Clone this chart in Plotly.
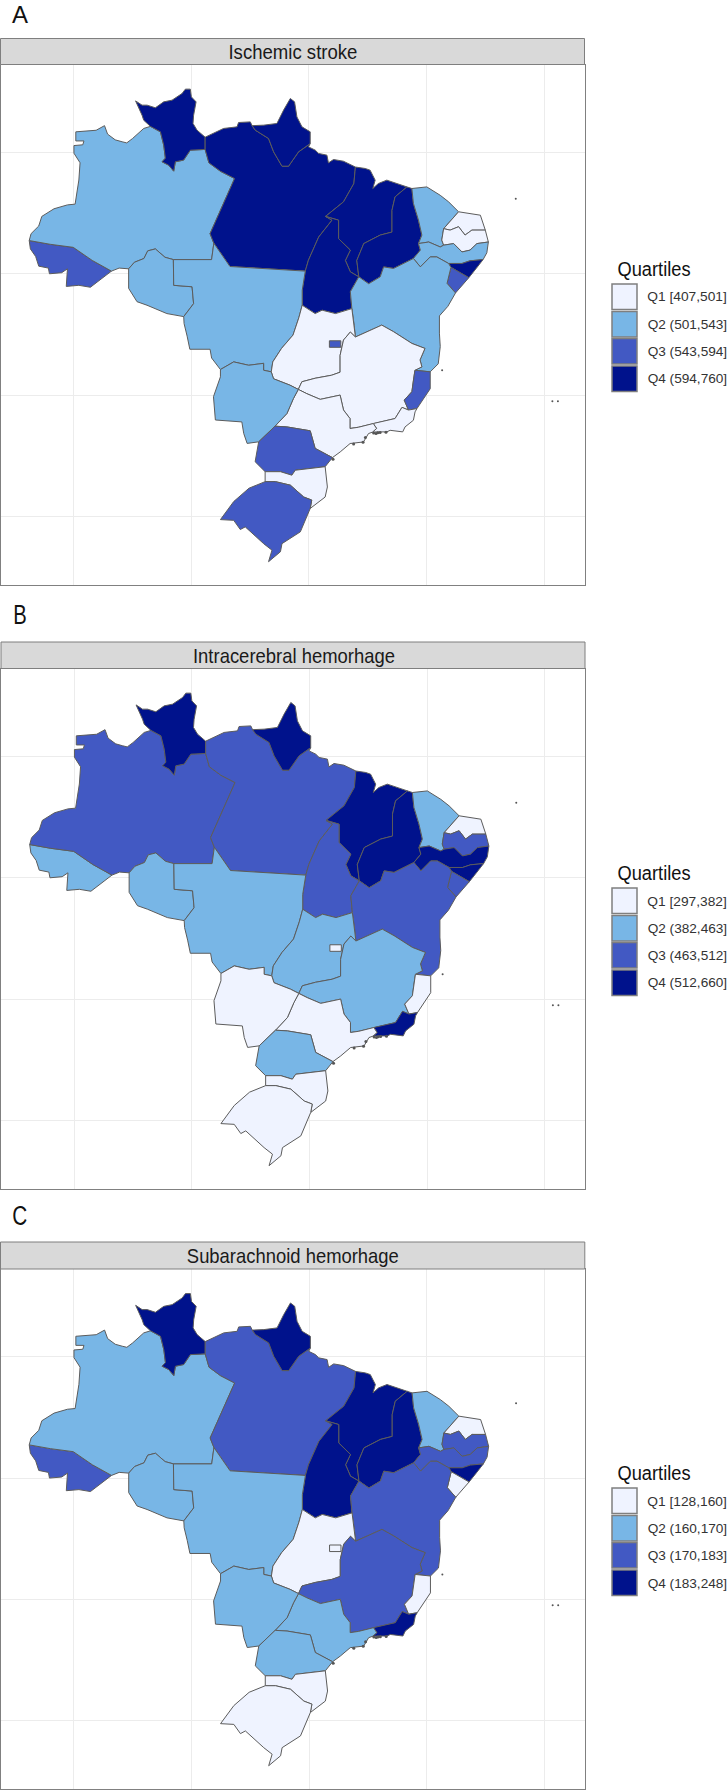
import json
import plotly.graph_objects as go

# ---------- Boundary arcs, as (longitude, latitude) ----------
rr_n = [(-63.47,2.15),(-64.04,2.66),(-64.18,3.07),(-64.73,4.25),(-64.18,3.90),(-63.75,3.90),(-63.05,3.68),(-62.34,4.17),(-61.63,4.31),(-60.78,4.86),(-60.50,5.22),(-60.08,5.22),(-59.99,4.58),(-59.59,4.17),(-59.80,3.07),(-59.85,2.39),(-59.51,1.84),(-58.82,1.26)]
rr_pa = [(-58.82,1.26),(-58.82,0.25)]
rr_am = [(-58.82,0.25),(-60.08,0.19),(-60.65,-0.63),(-61.35,-0.77),(-61.49,-1.54),(-61.92,-1.05),(-62.48,-0.77),(-62.20,-0.47),(-62.34,0.60),(-62.62,1.70),(-63.47,2.15)]
am_n = [(-63.47,2.15),(-64.04,1.98),(-65.00,1.14),(-65.48,0.79),(-65.87,0.88),(-66.46,1.04),(-67.11,1.51),(-67.37,2.21),(-68.08,1.83),(-69.81,1.70),(-69.81,0.95),(-69.12,0.95),(-69.22,0.63),(-69.97,0.57),(-69.97,-0.06),(-69.45,-0.85),(-69.55,-2.27),(-69.87,-4.26),(-70.52,-4.32),(-71.66,-4.64),(-72.70,-5.27),(-72.96,-6.06),(-73.61,-6.69),(-73.77,-7.26)]
am_ac = [(-73.77,-7.26),(-71.98,-7.57),(-70.03,-7.82),(-68.41,-8.90),(-66.78,-9.78)]
ac_out = [(-73.77,-7.26),(-73.67,-7.95),(-73.22,-8.58),(-72.96,-9.37),(-72.14,-9.53),(-72.05,-10.00),(-71.01,-9.91),(-70.52,-9.59),(-70.62,-11.04),(-69.55,-10.95),(-68.57,-11.11),(-67.92,-10.63),(-66.78,-9.78)]
am_s = [(-66.78,-9.78),(-66.13,-9.53),(-65.32,-9.59)]
am_ro = [(-65.32,-9.59),(-64.83,-9.05),(-64.02,-8.74),(-63.70,-8.11),(-63.05,-7.95),(-62.23,-8.64),(-61.52,-8.83)]
am_mt = [(-61.52,-8.83),(-58.27,-8.83),(-58.08,-7.48)]
am_pa = [(-58.82,0.25),(-58.50,-0.85),(-57.52,-1.55),(-56.32,-2.15),(-58.40,-6.69),(-58.08,-7.48)]
pa_n = [(-58.82,1.26),(-58.10,1.57),(-57.25,1.98),(-56.11,2.11),(-55.98,2.47),(-54.98,2.52),(-54.83,2.21)]
ap_n = [(-54.83,2.21),(-53.85,2.25),(-52.72,2.39),(-52.15,3.49),(-51.58,4.45),(-51.22,4.17),(-51.02,2.93),(-50.59,2.11),(-49.89,1.70),(-49.89,0.73)]
ap_pa = [(-54.83,2.21),(-54.56,1.84),(-53.43,1.15),(-53.00,0.05),(-52.29,-1.13),(-51.73,-1.13),(-50.88,0.05),(-49.89,0.73)]
pa_e = [(-49.89,0.73),(-50.03,0.46),(-49.46,0.19),(-49.18,-0.08),(-48.47,-0.22),(-48.34,-0.86),(-47.91,-0.58),(-47.07,-0.72),(-46.05,-1.20)]
pa_ma = [(-46.05,-1.20),(-46.18,-2.56),(-47.06,-4.07),(-48.59,-5.27)]
pa_to = [(-48.59,-5.27),(-48.04,-5.58),(-49.17,-6.97),(-50.05,-8.90),(-50.31,-9.78)]
pa_mt = [(-50.31,-9.78),(-56.71,-9.40),(-57.52,-8.27),(-58.08,-7.48)]
to_mt = [(-50.31,-9.78),(-50.57,-11.36),(-50.57,-12.59)]
to_go = [(-50.57,-12.59),(-49.47,-13.28),(-48.88,-13.00),(-47.74,-13.28),(-46.35,-12.87)]
to_ma = [(-48.59,-5.27),(-47.48,-5.58),(-47.48,-7.10),(-46.48,-8.05),(-46.90,-8.90),(-46.48,-9.84),(-45.76,-10.25)]
to_ba = [(-45.76,-10.25),(-46.48,-11.48),(-46.35,-12.87)]
ma_n = [(-46.05,-1.20),(-45.22,-1.32),(-44.80,-1.46),(-44.37,-2.28),(-44.57,-2.97),(-44.10,-2.56),(-43.38,-2.28),(-41.67,-2.84)]
ma_pi = [(-41.67,-2.84),(-42.68,-3.66),(-42.94,-4.76),(-42.94,-6.56),(-43.94,-6.81),(-45.34,-7.51),(-45.93,-8.90),(-45.76,-10.25)]
pi_n = [(-41.67,-2.84),(-41.25,-2.97)]
pi_ce = [(-41.25,-2.97),(-41.12,-4.20),(-40.69,-5.58),(-40.40,-6.81),(-40.69,-7.51)]
pi_pe = [(-40.69,-7.51),(-40.53,-8.05),(-41.12,-8.74)]
pi_ba = [(-41.12,-8.74),(-42.81,-9.56),(-43.65,-9.43),(-43.94,-10.25),(-44.92,-10.82),(-45.76,-10.25)]
ce_n = [(-41.25,-2.97),(-39.98,-2.84),(-38.84,-3.53),(-38.13,-4.07),(-37.28,-4.89)]
ce_rn = [(-37.28,-4.89),(-38.55,-6.28)]
ce_pb = [(-38.55,-6.28),(-38.71,-7.22),(-38.55,-7.64)]
ce_pe = [(-40.69,-7.51),(-39.82,-7.38),(-38.84,-7.79),(-38.55,-7.64)]
rn_out = [(-37.28,-4.89),(-35.43,-5.17),(-35.01,-6.40)]
rn_pb = [(-35.01,-6.40),(-36.15,-6.40),(-36.73,-6.81),(-37.28,-6.12),(-38.00,-6.40),(-38.55,-6.28)]
pb_out = [(-35.01,-6.40),(-34.75,-7.38)]
pb_pe = [(-38.55,-7.64),(-37.70,-7.51),(-36.99,-8.20),(-36.31,-8.05),(-35.72,-7.51),(-34.75,-7.38)]
pe_out = [(-34.75,-7.38),(-34.88,-8.27),(-35.20,-8.83)]
pe_ba = [(-41.12,-8.74),(-40.53,-9.43),(-39.69,-8.61),(-39.13,-8.61),(-38.13,-9.15)]
pe_al = [(-38.13,-9.15),(-36.99,-9.15),(-36.31,-8.93),(-35.20,-8.83)]
al_out = [(-35.20,-8.83),(-35.76,-9.53),(-36.41,-10.32)]
al_se = [(-36.41,-10.32),(-37.93,-9.47)]
al_ba = [(-38.13,-9.15),(-37.93,-9.47)]
se_ba = [(-37.93,-9.47),(-38.26,-10.79),(-37.54,-11.58)]
se_out = [(-37.54,-11.58),(-36.41,-10.32)]
ba_out = [(-37.54,-11.58),(-38.19,-12.68),(-38.91,-13.47),(-38.91,-14.89),(-38.84,-16.00),(-39.01,-17.42),(-39.69,-18.08)]
ba_es = [(-39.69,-18.08),(-40.99,-17.95)]
ba_mg = [(-40.99,-17.95),(-40.40,-17.67),(-40.56,-17.10),(-40.14,-16.15),(-41.25,-15.74),(-42.81,-14.77),(-43.81,-14.23),(-46.05,-15.21)]
go_ba = [(-46.35,-12.87),(-46.15,-14.26),(-46.05,-15.21)]
go_mg = [(-46.05,-15.21),(-46.48,-14.80),(-47.06,-15.46),(-47.35,-16.72),(-47.35,-18.11),(-48.07,-18.36),(-49.47,-18.61),(-50.60,-18.90),(-50.90,-19.53)]
mt_go = [(-53.20,-18.08),(-53.07,-17.26),(-52.33,-16.15),(-51.35,-15.05),(-50.86,-13.63),(-50.57,-12.59)]
ms_go = [(-53.20,-18.08),(-53.01,-18.65),(-51.61,-19.18),(-50.90,-19.53)]
mt_ms = [(-57.52,-17.89),(-56.39,-17.26),(-55.12,-17.54),(-53.85,-17.38),(-53.85,-17.95),(-53.20,-18.08)]
mt_w = [(-60.64,-13.53),(-60.61,-14.10),(-60.35,-15.14),(-60.12,-16.22),(-58.40,-16.22),(-58.27,-16.94),(-57.52,-17.89)]
ro_mt = [(-61.52,-8.83),(-61.49,-10.95),(-59.93,-11.07),(-59.80,-12.46),(-60.64,-13.53)]
ro_out = [(-65.32,-9.59),(-65.32,-11.20),(-64.61,-12.30),(-63.76,-12.59),(-62.07,-13.28),(-60.64,-13.53)]
ms_out = [(-57.52,-17.89),(-57.52,-18.49),(-58.11,-20.13),(-57.95,-22.05),(-55.70,-22.21),(-55.54,-23.16),(-55.25,-23.98),(-54.27,-23.85)]
ms_pr = [(-54.27,-23.85),(-52.88,-22.56)]
ms_sp = [(-52.88,-22.56),(-51.87,-21.52),(-51.32,-20.29),(-50.90,-19.53)]
mg_sp = [(-50.90,-19.53),(-50.18,-19.88),(-49.04,-20.35),(-47.35,-20.00),(-47.06,-21.23),(-46.51,-21.93),(-46.51,-22.75),(-45.80,-22.65),(-44.53,-22.34)]
mg_rj = [(-44.53,-22.34),(-42.68,-21.93),(-42.09,-21.01),(-41.54,-21.23)]
mg_es = [(-40.99,-17.95),(-41.12,-18.77),(-41.25,-19.72),(-41.90,-20.41),(-41.54,-21.23)]
es_out = [(-39.69,-18.08),(-39.69,-19.47),(-40.14,-20.13),(-40.82,-21.11)]
es_rj = [(-40.82,-21.11),(-41.54,-21.23)]
rj_out = [(-40.82,-21.11),(-40.98,-21.38),(-41.12,-22.07),(-41.83,-22.62),(-42.03,-23.03),(-43.10,-22.90),(-43.38,-23.03),(-44.23,-23.03),(-44.60,-23.05)]
rj_sp = [(-44.53,-22.34),(-44.25,-22.75),(-44.60,-23.05)]
sp_out = [(-44.60,-23.05),(-44.94,-23.17),(-45.36,-23.86),(-46.50,-23.99),(-47.34,-24.68),(-48.00,-25.15)]
sp_pr = [(-52.88,-22.56),(-51.87,-22.62),(-49.89,-22.94),(-49.47,-24.39),(-48.00,-25.15)]
pr_out = [(-48.00,-25.15),(-48.62,-25.90)]
pr_sc = [(-48.62,-25.90),(-50.21,-26.06),(-51.16,-26.19),(-51.45,-26.60),(-52.42,-26.31),(-53.72,-26.31)]
pr_w = [(-54.27,-23.85),(-54.57,-25.49),(-53.72,-26.31)]
sc_w = [(-53.72,-26.31),(-53.72,-27.13)]
sc_rs = [(-53.72,-27.13),(-52.85,-27.13),(-51.58,-27.42),(-50.44,-28.40),(-49.76,-28.65),(-49.89,-29.34)]
sc_out = [(-48.62,-25.90),(-48.43,-27.57),(-48.62,-28.40),(-49.89,-29.34)]
rs_out = [(-53.72,-27.13),(-55.09,-27.67),(-56.39,-28.77),(-57.52,-30.26),(-56.39,-30.32),(-55.83,-31.08),(-55.41,-30.86),(-53.85,-32.24),(-53.14,-32.78),(-53.43,-33.73),(-52.42,-32.91),(-52.29,-32.24),(-50.73,-31.27),(-49.89,-29.34)]
df_ring = [(-48.26,-15.52),(-47.29,-15.52),(-47.29,-16.06),(-48.26,-16.06),(-48.26,-15.52)]

island_lon = [-32.42, -38.68, -29.31, -28.84]
island_lat = [-3.82, -17.95, -20.50, -20.50]
coast_lon = [-44.30, -44.15, -44.50, -43.95, -43.45, -45.20, -45.40, -46.20, -47.95]
coast_lat = [-23.16, -23.10, -23.12, -23.08, -23.06, -23.50, -23.88, -24.03, -25.28]

# ---------- States and quartile classes per panel ----------
STATES = {
    "AC": [am_ac, ac_out],
    "AM": [am_n, am_ac, am_s, am_ro, am_mt, am_pa, rr_am],
    "RR": [rr_n, rr_pa, rr_am],
    "RO": [am_ro, ro_mt, ro_out],
    "PA": [pa_n, ap_pa, pa_e, pa_ma, pa_to, pa_mt, am_pa, rr_pa],
    "AP": [ap_n, ap_pa],
    "MA": [ma_n, ma_pi, to_ma, pa_ma],
    "TO": [pa_to, to_mt, to_go, to_ba, to_ma],
    "PI": [pi_n, pi_ce, pi_pe, pi_ba, ma_pi],
    "CE": [ce_n, ce_rn, ce_pb, ce_pe, pi_ce],
    "RN": [rn_out, rn_pb, ce_rn],
    "PB": [pb_out, pb_pe, ce_pb, rn_pb],
    "PE": [pb_pe, pe_out, pe_al, pe_ba, pi_pe, ce_pe],
    "AL": [pe_al, al_out, al_se, al_ba],
    "SE": [al_se, se_ba, se_out],
    "BA": [pe_ba, al_ba, se_ba, ba_out, ba_es, ba_mg, go_ba, to_ba, pi_ba],
    "MT": [am_mt, pa_mt, to_mt, mt_go, mt_ms, mt_w, ro_mt],
    "GO": [to_go, go_ba, go_mg, ms_go, mt_go],
    "MG": [ba_mg, go_mg, mg_sp, mg_rj, mg_es],
    "ES": [ba_es, es_out, es_rj, mg_es],
    "RJ": [es_rj, rj_out, rj_sp, mg_rj],
    "SP": [mg_sp, rj_sp, sp_out, sp_pr, ms_sp],
    "MS": [mt_ms, ms_go, ms_sp, ms_pr, ms_out],
    "PR": [ms_pr, sp_pr, pr_out, pr_sc, pr_w],
    "SC": [pr_sc, sc_w, sc_rs, sc_out],
    "RS": [sc_rs, rs_out],
    "DF": [df_ring],
}

ORDER     = ["AC","AM","RR","RO","PA","AP","MA","TO","PI","CE","RN","PB","PE","AL","SE","BA","MT","GO","MG","ES","RJ","SP","MS","PR","SC","RS","DF"]
quart_a   = [3,2,4,2,4,4,4,4,4,2,1,1,2,4,3,2,2,1,1,3,1,1,2,3,1,3,3]
quart_b   = [2,3,4,2,3,4,4,3,4,2,1,3,4,4,3,3,2,2,2,1,4,1,1,2,1,1,1]
quart_c   = [3,2,4,2,3,4,4,4,4,2,1,3,3,4,1,3,2,1,3,1,4,2,2,2,1,1,1]
titles    = ["Ischemic stroke", "Intracerebral hemorhage", "Subarachnoid hemorhage"]
letters   = ["A", "B", "C"]
legend_a  = ["Q1 [407,501]", "Q2 (501,543]", "Q3 (543,594]", "Q4 (594,760]"]
legend_b  = ["Q1 [297,382]", "Q2 (382,463]", "Q3 (463,512]", "Q4 (512,660]"]
legend_c  = ["Q1 [128,160]", "Q2 (160,170]", "Q3 (170,183]", "Q4 (183,248]"]
grid_lon  = [-70, -60, -50, -40, -30]
grid_lat  = [0, -10, -20, -30]
COLORS    = {1: "#eff3ff", 2: "#78b6e6", 3: "#4259c3", 4: "#00128c"}
LINE      = "#5c5c5c"
SANS      = "Liberation Sans, Arial, sans-serif"
W, H = 728, 1790

# pixel frames: (left, right, strip top, panel top, panel bottom)
FRAMES = [(0.5, 584.5, 38.5, 64.5, 585), (1, 585, 642, 668.5, 1189), (0.5, 584.8, 1242, 1269, 1789)]
LETTER_Y = [14, 615, 1216]
LETTER_SIZE = [24, 27, 27]
LEG_SHIFT = [0, 604, 1204]
quarts = [quart_a, quart_b, quart_c]
legends = [legend_a, legend_b, legend_c]

# The reference lettering is condensed; these are the text widths it shows.
TEXT_WIDTHS = {"Ischemic stroke": 129, "Intracerebral hemorhage": 202, "Subarachnoid hemorhage": 212,
               "A": 16, "B": 13.5, "C": 15, "Quartiles": 73}
for labels in legends:
    for lab in labels:
        TEXT_WIDTHS[lab] = 79.5


def ring(arcs):
    """Join arcs sharing end points into one closed outline."""
    if len(arcs) == 1:
        return list(arcs[0])
    first = arcs[0]
    if first[-1] not in (arcs[1][0], arcs[1][-1]):
        first = first[::-1]
    pts = list(first)
    for a in arcs[1:]:
        pts += a[1:] if a[0] == pts[-1] else a[::-1][1:]
    return pts


fig = go.Figure()
shapes, annotations = [], []


def note(text, cx, cy, size, color, family=SANS):
    annotations.append(dict(text=text, xref="paper", yref="paper", x=cx / W, y=1 - cy / H, showarrow=False,
                            xanchor="center", yanchor="middle", font=dict(family=family, size=size, color=color)))


for i, (l, r, st, pt, pb) in enumerate(FRAMES):
    suf = "" if i == 0 else str(i + 1)
    ax = dict(showline=True, linecolor="#808080", linewidth=1, mirror=True, showgrid=True,
              gridcolor="#ececec", gridwidth=1, zeroline=False, showticklabels=False, ticks="")
    xa, ya = f"x{suf}", f"y{suf}"
    fig.update_layout({
        f"xaxis{suf}": dict(ax, anchor=ya, domain=[l / W, r / W], range=[-76.21, -26.58], tickvals=grid_lon),
        f"yaxis{suf}": dict(ax, anchor=xa, domain=[1 - pb / H, 1 - pt / H], range=[-35.65, 7.25], tickvals=grid_lat),
    })
    for code, q in zip(ORDER, quarts[i]):
        pts = ring(STATES[code])
        fig.add_trace(go.Scatter(x=[p[0] for p in pts], y=[p[1] for p in pts], mode="lines",
                                 fill="toself", fillcolor=COLORS[q], name=code,
                                 line=dict(color=LINE, width=1), xaxis=xa, yaxis=ya,
                                 showlegend=False, hoverinfo="name"))
    fig.add_trace(go.Scatter(x=island_lon, y=island_lat, mode="markers", marker=dict(size=2, color="#555555"),
                             xaxis=xa, yaxis=ya, showlegend=False, hoverinfo="skip"))
    fig.add_trace(go.Scatter(x=coast_lon, y=coast_lat, mode="markers", marker=dict(size=3, color="#555555"),
                             xaxis=xa, yaxis=ya, showlegend=False, hoverinfo="skip"))
    # facet strip
    shapes.append(dict(type="rect", xref="paper", yref="paper", x0=l / W, x1=r / W, y0=1 - pt / H, y1=1 - st / H,
                       fillcolor="#d9d9d9", line=dict(color="#7f7f7f", width=1)))
    note(titles[i], (l + r) / 2 + 0.5, (st + pt) / 2, 21, "#1a1a1a")
    note(letters[i], 20, LETTER_Y[i], LETTER_SIZE[i], "#111111")
    # legend
    s = LEG_SHIFT[i]
    note("Quartiles", 653.5, 269 + s, 20, "#111111")
    for k, top in enumerate([284, 311.5, 338.5, 366]):
        shapes.append(dict(type="rect", xref="paper", yref="paper", x0=612 / W, x1=637 / W,
                           y0=1 - (top + s + 25.5) / H, y1=1 - (top + s) / H,
                           fillcolor=COLORS[k + 1], line=dict(color="#7f7f7f", width=1.5)))
        note(legends[i][k], 687, top + s + 13, 13.5, "#333333")

fig.update_layout(width=W, height=H, margin=dict(l=0, r=0, t=0, b=0), paper_bgcolor="white",
                  plot_bgcolor="white", showlegend=False, shapes=shapes, annotations=annotations)

post = """
document.body.style.margin = '0';
var widths = %s;
document.querySelectorAll('text.annotation-text').forEach(function (t) {
  var w = widths[t.textContent];
  if (w) { t.setAttribute('textLength', w); t.setAttribute('lengthAdjust', 'spacingAndGlyphs'); }
});
""" % json.dumps(TEXT_WIDTHS)
fig.write_html("out.html", config={"displayModeBar": False}, post_script=post)
